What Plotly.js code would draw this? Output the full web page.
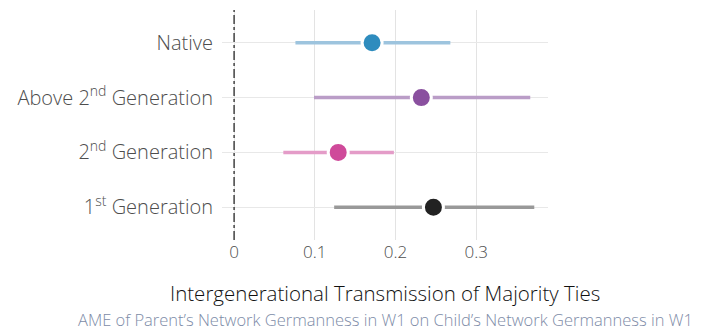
<!DOCTYPE html>
<html><head><meta charset="utf-8">
<script src="https://cdn.plot.ly/plotly-3.0.1.min.js"></script>
<style>body{margin:0;background:#fff}#chart{width:728px;height:331px}</style>
</head><body><div id="chart"></div>
<script>
const categories = ["1<sup>st</sup> Generation", "2<sup>nd</sup> Generation", "Above 2<sup>nd</sup> Generation", "Native"];
const estimates = [0.247, 0.129, 0.232, 0.171];
const lower = [0.124, 0.061, 0.099, 0.076];
const upper = [0.372, 0.198, 0.367, 0.268];
const pointColors = ["#222222", "#CF4A9A", "#8A509F", "#2E8CBE"];
const lineColors = ["#999999", "#E49CC8", "#BA9DC7", "#9DC4DE"];
const xTickVals = [0, 0.1, 0.2, 0.3];
const xTickText = ["0", "0.1", "0.2", "0.3"];

const FONT = "'Open Sans', Lato, sans-serif";
const traces = [];
categories.forEach((c, i) => {
  traces.push({x: [lower[i], upper[i]], y: [c, c], mode: 'lines', type: 'scatter',
    line: {color: lineColors[i], width: 3.5}, hoverinfo: 'skip', showlegend: false});
});
traces.push({x: estimates, y: categories, mode: 'markers', type: 'scatter', showlegend: false,
  marker: {color: pointColors, size: 20, line: {color: '#ffffff', width: 3}}});

const layout = {
  width: 728, height: 331,
  margin: {l: 222, r: 180, t: 10, b: 91},
  paper_bgcolor: '#ffffff', plot_bgcolor: '#ffffff',
  font: {family: FONT, color: '#4d4d4d', weight: 300},
  xaxis: {range: [-0.015, 0.389], tickvals: xTickVals, ticktext: xTickText,
    showgrid: true, gridcolor: '#e3e3e3', gridwidth: 1, zeroline: false, showline: false,
    ticks: '', tickfont: {size: 17, color: '#4d4d4d', family: FONT, weight: 300}},
  yaxis: {type: 'category', categoryorder: 'array', categoryarray: categories, range: [-0.6, 3.6],
    showgrid: true, gridcolor: '#e8e8e8', gridwidth: 1, zeroline: false, showline: false,
    ticks: '', ticklabelstandoff: 8, tickfont: {size: 20, color: '#4d4d4d', family: FONT, weight: 300}},
  shapes: [{type: 'line', xref: 'x', yref: 'paper', x0: 0, x1: 0, y0: 0, y1: 1,
    line: {color: '#444444', width: 1.5, dash: 'dashdot'}}],
  annotations: [
    {xref: 'paper', yref: 'paper', x: 0.5, y: -0.232, xanchor: 'center', yanchor: 'middle', showarrow: false,
     borderpad: 0,
     text: 'Intergenerational Transmission of Majority Ties', font: {size: 20.5, color: '#111111', family: FONT, weight: 300}},
    {xref: 'paper', yref: 'paper', x: 0.5, y: -0.345, xanchor: 'center', yanchor: 'middle', showarrow: false,
     borderpad: 0,
     text: 'AME of Parent’s Network Germanness in W1 on Child’s Network Germanness in W1', font: {size: 16.5, color: '#7D8BA7', family: FONT, weight: 300}}
  ]
};
Plotly.newPlot('chart', traces, layout, {displayModeBar: false, staticPlot: true});
</script></body></html>
